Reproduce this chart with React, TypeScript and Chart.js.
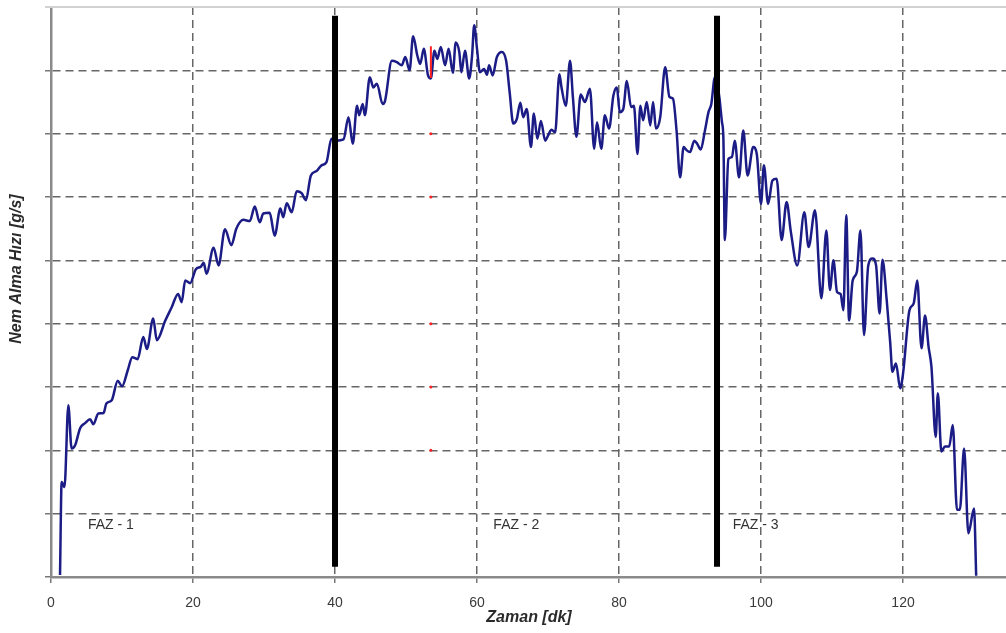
import React, { useEffect, useRef } from "react";
import { Chart, registerables } from "chart.js";

Chart.register(...registerables);

// Time (minutes)
const times = [
  1.27, 1.5, 1.9, 2.44, 2.9, 3.4, 4.1, 4.8, 5.5, 5.96, 6.67, 7.4, 7.8, 8.55, 9.4, 10.0, 10.8, 11.45, 12.2, 13.0,
  13.5, 14.4, 14.9, 16.1, 17.0, 17.9, 18.4, 18.9, 19.6, 20.4, 21.1, 21.5, 21.9, 22.9, 23.6, 24.5, 25.4, 26.1, 27.1, 28.0,
  28.7, 29.4, 29.9, 30.8, 31.5, 32.3, 32.7, 33.2, 33.9, 34.6, 35.3, 35.9, 36.6, 37.4, 38.1, 38.8, 39.5, 40.2, 41.2, 41.9,
  42.5, 43.1, 43.4, 43.9, 44.2, 44.9, 45.4, 45.9, 46.7, 47.0, 48.0, 48.7, 49.4, 49.9, 50.5, 51.0, 51.6, 52.0, 52.5, 53.1,
  53.5, 54.0, 54.4, 54.9, 55.5, 56.0, 56.6, 57.0, 57.5, 57.8, 58.3, 58.9, 59.3, 59.6, 60.0, 60.4, 61.0, 61.4, 61.7, 62.2,
  62.8, 63.5, 64.1, 64.6, 65.1, 65.6, 66.1, 66.5, 67.0, 67.6, 68.0, 68.5, 69.0, 69.6, 70.0, 70.5, 71.0, 71.6, 71.9, 72.5,
  73.1, 73.5, 74.0, 74.6, 75.2, 75.9, 76.5, 76.9, 77.5, 78.0, 78.6, 79.2, 79.7, 80.1, 80.6, 81.1, 81.7, 82.1, 82.6, 83.0,
  83.4, 83.9, 84.4, 84.8, 85.2, 85.8, 86.5, 87.1, 87.6, 88.1, 88.6, 89.1, 89.5, 90.0, 90.6, 91.0, 91.5, 92.1, 92.6, 93.0,
  93.5, 94.1, 94.5, 94.7, 94.9, 95.4, 95.9, 96.3, 96.9, 97.5, 98.1, 98.9, 99.4, 100.0, 100.4, 101.0, 101.6, 102.2, 102.9, 103.6,
  104.2, 105.1, 106.1, 106.7, 107.6, 108.5, 109.2, 109.7, 110.2, 110.7, 111.2, 111.6, 112.0, 112.4, 112.9, 113.5, 114.0, 114.5, 115.1, 115.7,
  116.2, 116.7, 117.1, 117.7, 118.2, 118.5, 119.0, 119.6, 120.0, 120.9, 121.5, 122.0, 122.6, 123.1, 123.6, 124.0, 124.6, 124.9, 125.4, 125.9,
  126.5, 127.0, 127.6, 128.0, 128.6, 129.2, 130.0, 130.3,
];

// Moisture uptake rate (g/s)
const rates = [
  0.03, 1.5, 1.42, 2.71, 2.03, 2.08, 2.35, 2.43, 2.49, 2.41, 2.58, 2.59, 2.74, 2.79, 3.1, 3.01, 3.26, 3.47, 3.44, 3.79,
  3.6, 4.08, 3.74, 4.05, 4.26, 4.47, 4.34, 4.68, 4.64, 4.86, 4.9, 4.96, 4.79, 5.2, 4.92, 5.49, 5.24, 5.5, 5.64, 5.62,
  5.85, 5.6, 5.74, 5.75, 5.39, 5.82, 5.68, 5.9, 5.76, 6.09, 6.06, 5.95, 6.34, 6.41, 6.5, 6.55, 6.92, 6.89, 6.91, 7.26,
  6.84, 7.44, 7.29, 7.47, 7.29, 7.89, 7.73, 7.79, 7.47, 7.5, 8.15, 8.13, 8.08, 8.21, 8.0, 8.54, 8.23, 8.1, 8.34, 7.92,
  7.87, 8.31, 8.18, 8.37, 8.08, 8.34, 7.96, 8.44, 8.29, 7.97, 8.31, 7.87, 8.23, 8.71, 8.34, 7.97, 8.02, 7.93, 8.08, 7.92,
  8.21, 8.29, 8.15, 7.65, 7.16, 7.23, 7.49, 7.26, 7.39, 6.79, 7.32, 6.92, 7.2, 6.89, 6.97, 7.06, 7.02, 7.94, 7.73, 7.44,
  8.15, 7.58, 6.95, 7.62, 7.5, 7.71, 6.76, 7.18, 6.76, 7.29, 7.08, 7.6, 7.73, 7.34, 7.39, 7.83, 7.42, 7.44, 6.68, 7.44,
  7.21, 7.5, 7.13, 7.5, 7.08, 7.26, 8.05, 7.58, 7.55, 7.05, 6.31, 6.79, 6.74, 6.71, 6.89, 6.84, 6.75, 7.05, 7.34, 7.47,
  7.89, 7.6, 7.18, 6.92, 5.32, 6.6, 6.63, 6.89, 6.31, 7.05, 6.34, 6.79, 6.68, 5.89, 6.5, 5.89, 6.26, 6.29, 5.32, 5.92,
  5.45, 4.92, 5.76, 5.21, 5.79, 4.4, 5.47, 4.53, 5.0, 4.5, 4.47, 4.21, 5.71, 4.05, 4.68, 4.82, 5.47, 3.82, 4.92, 5.03,
  4.92, 4.16, 5.01, 4.37, 3.69, 3.24, 3.37, 2.98, 3.21, 4.21, 4.32, 4.68, 3.61, 4.13, 3.63, 3.32, 2.21, 2.9, 1.98, 2.06,
  2.06, 2.4, 1.06, 1.06, 2.03, 0.69, 1.08, 0.02,
];

const xTickValues = [0, 20, 40, 60, 80, 100, 120];
const phaseBoundaries = [40, 93.8];
const phaseBoundaryRange = [0.16, 8.86];
const phaseLabels = ["FAZ - 1", "FAZ - 2", "FAZ - 3"];
const phaseLabelX = [5.2, 62.3, 96.0];
const phaseLabelY = 0.82;
const redMarkX = 53.5;
const redMarkRange = [7.88, 8.38];
const redDotY = [2, 3, 4, 6, 7];

const FONT = "'Liberation Sans', Arial, sans-serif";

const decorPlugin = {
  id: "decor",
  beforeDatasetsDraw(chart: any) {
    const { ctx, chartArea } = chart;
    ctx.save();
    ctx.setLineDash([]);
    ctx.strokeStyle = "#d2d2d2";
    ctx.lineWidth = 2;
    ctx.beginPath();
    ctx.moveTo(chartArea.left - 6, chartArea.top);
    ctx.lineTo(chartArea.right, chartArea.top);
    ctx.stroke();
    ctx.restore();
  },
  afterDraw(chart: any) {
    const { ctx, scales } = chart;
    const x = scales.x;
    const y = scales.y;
    ctx.save();
    ctx.fillStyle = "#333";
    ctx.textAlign = "left";
    ctx.textBaseline = "middle";
    ctx.font = `14px ${FONT}`;
    phaseLabels.forEach((t, i) => {
      ctx.fillText(t, x.getPixelForValue(phaseLabelX[i]), y.getPixelForValue(phaseLabelY));
    });
    ctx.fillStyle = "#2a2a2a";
    ctx.textAlign = "center";
    ctx.font = `italic bold 16px ${FONT}`;
    ctx.fillText("Zaman [dk]", 529, 618);
    ctx.translate(17, 269);
    ctx.rotate(-Math.PI / 2);
    ctx.font = `italic bold 16px ${FONT}`;
    ctx.fillText("Nem Alma Hızı [g/s]", 0, 0);
    ctx.restore();
  },
};

export default function App() {
  const ref = useRef<HTMLCanvasElement>(null);

  useEffect(() => {
    const canvas = ref.current;
    if (!canvas) return;
    const gridColor = (c: any) =>
      c.tick && (c.tick.value === 0 || c.tick.value === 9) ? "rgba(0,0,0,0)" : "#666";

    const chart = new Chart(canvas, {
      type: "line",
      data: {
        datasets: [
          ...phaseBoundaries.map((b) => ({
            data: [
              { x: b, y: phaseBoundaryRange[0] },
              { x: b, y: phaseBoundaryRange[1] },
            ],
            borderColor: "#000",
            borderWidth: 6,
            pointRadius: 0,
            order: 0,
          })),
          {
            data: [
              { x: redMarkX, y: redMarkRange[0] },
              { x: redMarkX, y: redMarkRange[1] },
            ],
            borderColor: "#ff2020",
            borderWidth: 2,
            pointRadius: 0,
            order: 1,
          },
          {
            data: redDotY.map((v) => ({ x: redMarkX, y: v })),
            showLine: false,
            pointRadius: 1.5,
            pointBorderWidth: 0,
            pointBackgroundColor: "#ff2020",
            borderColor: "#ff2020",
            order: 1,
          },
          {
            data: times.map((t, i) => ({ x: t, y: rates[i] })),
            borderColor: "#1c1c86",
            borderWidth: 2.5,
            pointRadius: 0,
            cubicInterpolationMode: "monotone",
            order: 2,
          },
        ],
      },
      options: {
        animation: false,
        responsive: false,
        devicePixelRatio: 1,
        layout: { autoPadding: false, padding: { top: 7, right: 0, left: 0, bottom: 0 } },
        plugins: { legend: { display: false }, tooltip: { enabled: false } },
        scales: {
          x: {
            type: "linear",
            min: 0,
            max: 134.5,
            afterFit: (s: any) => {
              s.height = 56;
              s.paddingLeft = 0;
              s.paddingRight = 0;
            },
            afterBuildTicks: (s: any) => {
              s.ticks = xTickValues.map((v) => ({ value: v }));
            },
            ticks: {
              stepSize: 20,
              includeBounds: false,
              autoSkip: false,
              maxRotation: 0,
              padding: 12,
              color: "#3a3a3a",
              font: { size: 14, family: FONT },
            },
            grid: {
              color: gridColor,
              lineWidth: 1.5,
              tickLength: 6,
              tickColor: "#777",
              tickWidth: 1.5,
            },
            border: { display: true, color: "#8a8a8a", width: 2.5, dash: [8, 5] },
          },
          y: {
            type: "linear",
            min: 0,
            max: 9,
            afterFit: (s: any) => {
              s.width = 51;
              s.paddingTop = 0;
              s.paddingBottom = 0;
            },
            ticks: { stepSize: 1, display: false },
            grid: {
              color: gridColor,
              lineWidth: 1.5,
              tickLength: 6,
              tickColor: "#777",
              tickWidth: 1.5,
            },
            border: { display: true, color: "#8a8a8a", width: 2.5, dash: [8, 5] },
          },
        },
      },
      plugins: [decorPlugin],
    } as any);
    return () => chart.destroy();
  }, []);

  return (
    <div style={{ position: "fixed", left: 0, top: 0, width: 1006, height: 633, background: "#fff" }}>
      <canvas ref={ref} width={1006} height={633} style={{ display: "block", width: 1006, height: 633 }} />
    </div>
  );
}
